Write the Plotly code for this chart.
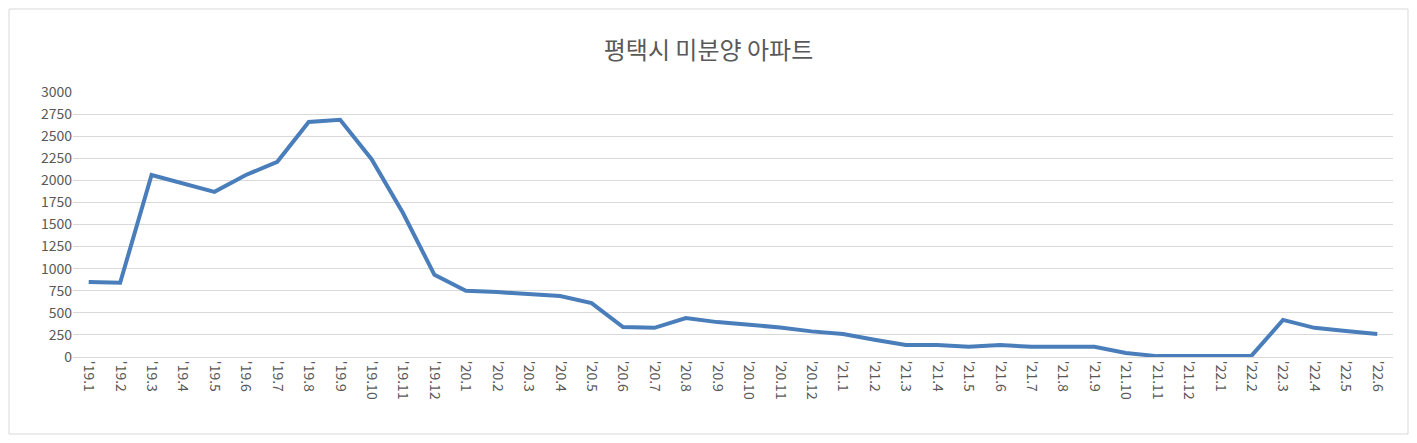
import plotly.graph_objects as go

months = ["'19.1","'19.2","'19.3","'19.4","'19.5","'19.6","'19.7","'19.8","'19.9","'19.10","'19.11","'19.12",
          "'20.1","'20.2","'20.3","'20.4","'20.5","'20.6","'20.7","'20.8","'20.9","'20.10","'20.11","'20.12",
          "'21.1","'21.2","'21.3","'21.4","'21.5","'21.6","'21.7","'21.8","'21.9","'21.10","'21.11","'21.12",
          "'22.1","'22.2","'22.3","'22.4","'22.5","'22.6"]
values = [850,840,2060,1960,1870,2060,2210,2660,2685,2240,1630,930,
          750,735,710,690,610,340,330,440,395,370,335,290,
          260,195,135,135,115,135,115,115,115,45,10,10,
          15,15,420,330,295,260]
yticks = [0,250,500,750,1000,1250,1500,1750,2000,2250,2500,2750,3000]

fig = go.Figure(go.Scatter(x=months, y=values, mode="lines",
                           line=dict(color="#4a7ebb", width=4)))
fig.update_layout(
    width=1401, height=427,
    title=dict(text="평택시 미분양 아파트", x=0.5, xanchor="center", y=0.92,
               font=dict(size=24, color="#595959")),
    font=dict(family="Noto Sans CJK KR", size=14, color="#595959"),
    plot_bgcolor="white", paper_bgcolor="white",
    margin=dict(l=65, r=16, t=84, b=78),
    showlegend=False,
    xaxis=dict(type="category", tickangle=90, showgrid=False, showline=True,
               linecolor="#d9d9d9", ticks="", range=[-0.5, len(months)-0.5]),
    yaxis=dict(range=[0, 3000], tickvals=yticks, showgrid=True, gridcolor="#d9d9d9",
               zeroline=False, ticks=""),
    shapes=[dict(type="rect", xref="paper", yref="paper", x0=-64/1320, x1=1+15/1320,
                 y0=-77/265, y1=1+83/265, line=dict(color="#d9d9d9", width=1))],
)
fig.write_html("out.html")
